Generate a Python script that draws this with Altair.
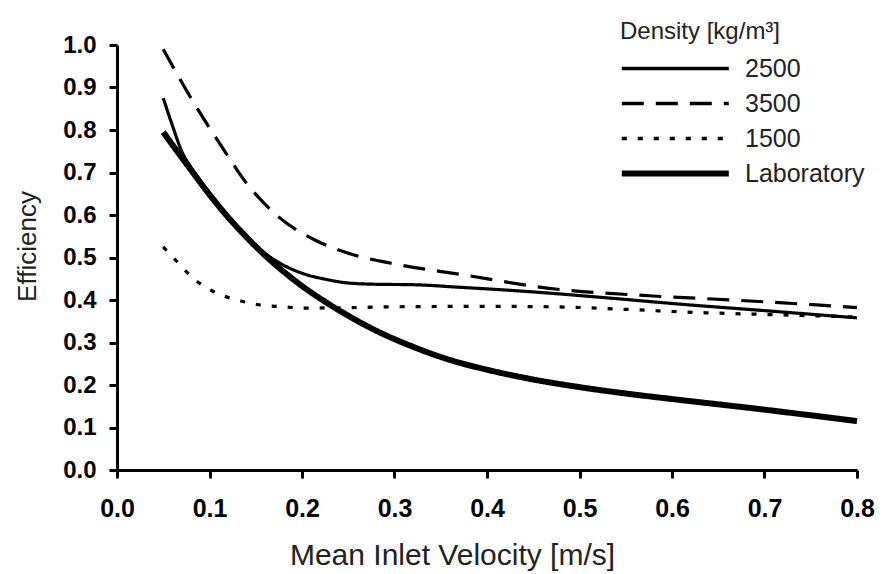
import altair as alt
import pandas as pd

series_order = ["2500", "3500", "1500", "Laboratory"]

x_2500 = [0.05, 0.06, 0.07, 0.08, 0.1, 0.12, 0.14, 0.16, 0.18, 0.2, 0.225, 0.25, 0.28, 0.32, 0.37, 0.45, 0.53, 0.61, 0.7, 0.8]
y_2500 = [0.875, 0.81, 0.75, 0.712, 0.652, 0.598, 0.55, 0.51, 0.482, 0.463, 0.449, 0.44, 0.437, 0.436, 0.43, 0.419, 0.405, 0.39, 0.375, 0.358]

x_3500 = [0.05, 0.08, 0.115, 0.14, 0.175, 0.215, 0.25, 0.295, 0.375, 0.465, 0.575, 0.665, 0.78, 0.8]
y_3500 = [0.99, 0.875, 0.755, 0.675, 0.595, 0.54, 0.51, 0.487, 0.459, 0.428, 0.41, 0.40, 0.385, 0.382]

x_1500 = [0.05, 0.065, 0.082, 0.108, 0.13, 0.15, 0.18, 0.205, 0.25, 0.3, 0.4, 0.47, 0.55, 0.61, 0.7, 0.8]
y_1500 = [0.525, 0.49, 0.452, 0.416, 0.40, 0.39, 0.384, 0.381, 0.382, 0.384, 0.385, 0.384, 0.378, 0.372, 0.366, 0.36]

x_lab = [0.05, 0.065, 0.08, 0.1, 0.12, 0.14, 0.16, 0.18, 0.2, 0.225, 0.25, 0.28, 0.32, 0.36, 0.4, 0.45, 0.5, 0.55, 0.6, 0.7, 0.8]
y_lab = [0.795, 0.75, 0.706, 0.648, 0.595, 0.548, 0.505, 0.467, 0.433, 0.396, 0.363, 0.328, 0.29, 0.259, 0.236, 0.213, 0.195, 0.18, 0.167, 0.142, 0.115]

x_ticks = [0.0, 0.1, 0.2, 0.3, 0.4, 0.5, 0.6, 0.7, 0.8]
y_ticks = [0.0, 0.1, 0.2, 0.3, 0.4, 0.5, 0.6, 0.7, 0.8, 0.9, 1.0]

rows = []
for name, xs, ys in [("2500", x_2500, y_2500), ("3500", x_3500, y_3500),
                     ("1500", x_1500, y_1500), ("Laboratory", x_lab, y_lab)]:
    for i, (a, b) in enumerate(zip(xs, ys)):
        rows.append({"series": name, "v": a, "eff": b, "order": i})
df = pd.DataFrame(rows)

legend = alt.Legend(
    title="Density [kg/m³]",
    orient="none",
    legendX=503,
    legendY=-25,
    padding=0,
    titleFont="Liberation Sans",
    titleFontSize=24,
    titleFontWeight="normal",
    titleColor="#222222",
    titlePadding=12,
    labelFont="Liberation Sans",
    labelFontSize=25,
    labelColor="#222222",
    labelOffset=100,
    symbolType="M-1,0H9",
    symbolSize=458,
    symbolStrokeColor="black",
    symbolStrokeWidth={"expr": "datum.value === 'Laboratory' ? 6 : 3.5"},
    rowPadding=9,
)

chart = alt.Chart(df).mark_line(color="black", interpolate="monotone").encode(
    x=alt.X("v:Q", scale=alt.Scale(domain=[0, 0.8], nice=False),
            axis=alt.Axis(values=x_ticks, format=".1f", title="Mean Inlet Velocity [m/s]",
                          titleX=335)),
    y=alt.Y("eff:Q", scale=alt.Scale(domain=[0, 1], nice=False),
            axis=alt.Axis(values=y_ticks, format=".1f", title="Efficiency", titleY=201)),
    strokeDash=alt.StrokeDash("series:N",
                              sort=series_order,
                              scale=alt.Scale(domain=series_order,
                                              range=[[1, 0], [22, 12], [5, 11], [1, 0]]),
                              legend=legend),
    strokeWidth=alt.condition("datum.series === 'Laboratory'", alt.value(6), alt.value(3.2)),
    detail="series:N",
    order="order:Q",
).properties(
    width=740,
    height=425,
    padding={"left": 117, "top": 45, "right": 26, "bottom": 104},
    autosize=alt.AutoSizeParams(type="none"),
).configure_view(stroke=None).configure_axis(
    grid=False,
    domainColor="black",
    domainWidth=3,
    tickColor="black",
    tickWidth=3,
    tickSize=8,
    labelFont="Liberation Sans",
    labelFontWeight="bold",
    labelColor="black",
    titleFont="Liberation Sans",
    titleFontWeight="normal",
    titleColor="#222222",
).configure_axisX(
    labelFontSize=25,
    labelFlush=False,
    labelPadding=18,
    titlePadding=19,
    titleFontSize=30,
).configure_axisY(
    labelFontSize=24,
    labelPadding=13,
    titlePadding=22,
    titleFontSize=26,
)

chart.save("out.html", embed_options={"renderer": "svg", "actions": False})
